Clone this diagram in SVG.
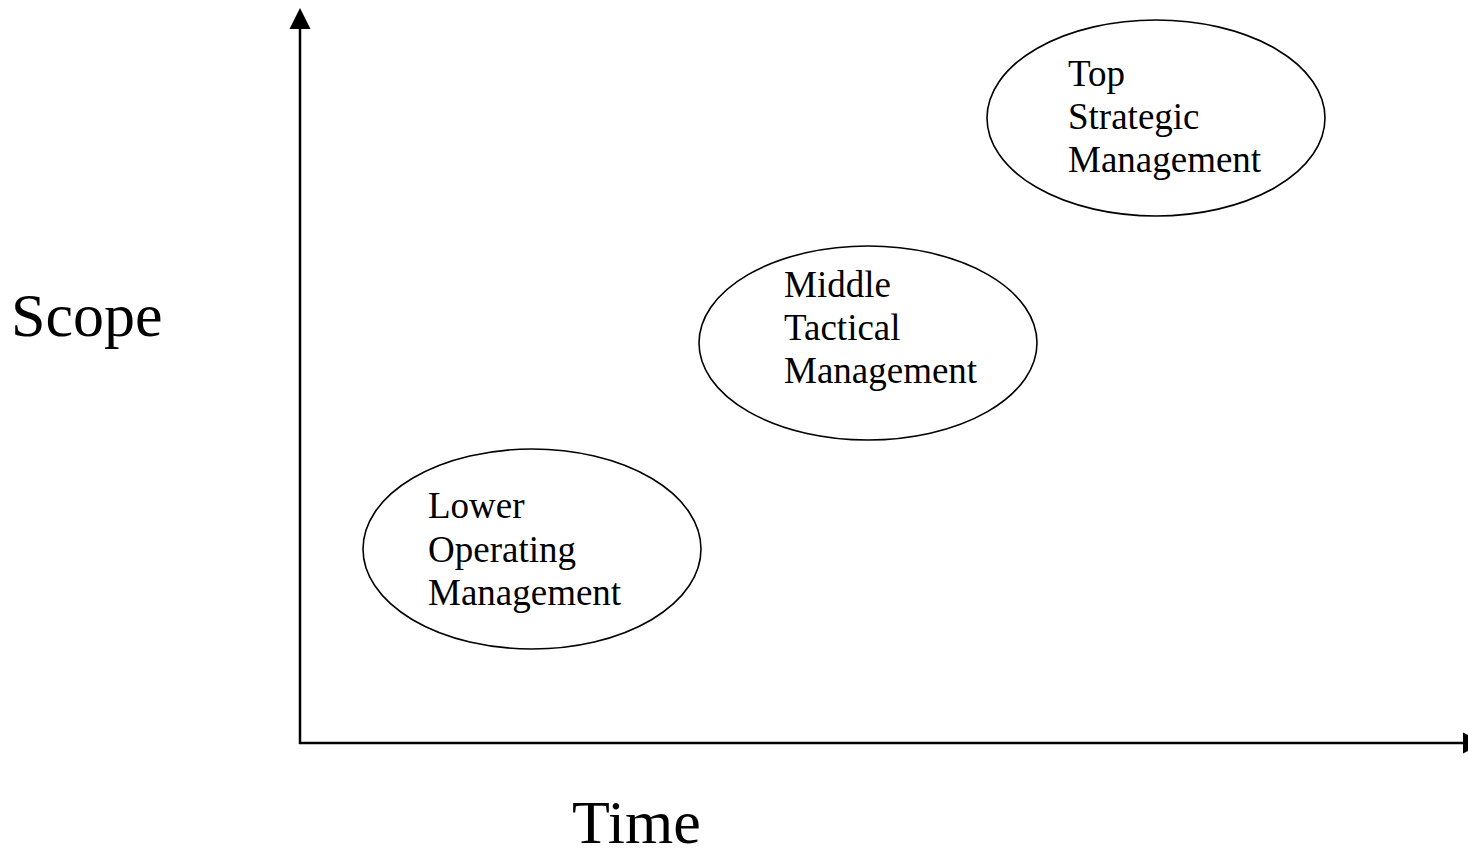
<svg xmlns="http://www.w3.org/2000/svg" width="1468" height="858" viewBox="0 0 1468 858">
  <style>
    .axis { stroke: #000; stroke-width: 2.5; fill: none; }
    .head { fill: #000; }
    .node ellipse { fill: #fff; stroke: #000; stroke-width: 1.6; }
    .lbl { font-family: "Liberation Serif", "Times New Roman", serif; font-size: 37px; fill: #000; }
    .axlbl { font-family: "Liberation Serif", "Times New Roman", serif; font-size: 62px; fill: #000; }
  </style>
  <rect width="1468" height="858" fill="#fff"/>

  <!-- axes -->
  <g id="connectors">
    <line class="axis" x1="300" y1="26" x2="300" y2="744"/>
    <polygon class="head" points="300,8 289.5,29 310.5,29"/>
    <line class="axis" x1="299" y1="743" x2="1465" y2="743"/>
    <polygon class="head" points="1484,743 1463,732.5 1463,753.5"/>
  </g>

  <text class="axlbl" x="11" y="336">Scope</text>
  <text class="axlbl" x="572" y="843">Time</text>

  <g id="node-lower" class="node">
    <ellipse cx="532" cy="549" rx="169" ry="100"/>
    <text class="lbl" x="428" y="518">Lower</text>
    <text class="lbl" x="428" y="562">Operating</text>
    <text class="lbl" x="428" y="605">Management</text>
  </g>

  <g id="node-middle" class="node">
    <ellipse cx="868" cy="343" rx="169" ry="97"/>
    <text class="lbl" x="784" y="297">Middle</text>
    <text class="lbl" x="784" y="340">Tactical</text>
    <text class="lbl" x="784" y="383">Management</text>
  </g>

  <g id="node-top" class="node">
    <ellipse cx="1156" cy="118" rx="169" ry="98"/>
    <text class="lbl" x="1068" y="86">Top</text>
    <text class="lbl" x="1068" y="129">Strategic</text>
    <text class="lbl" x="1068" y="172">Management</text>
  </g>
</svg>
